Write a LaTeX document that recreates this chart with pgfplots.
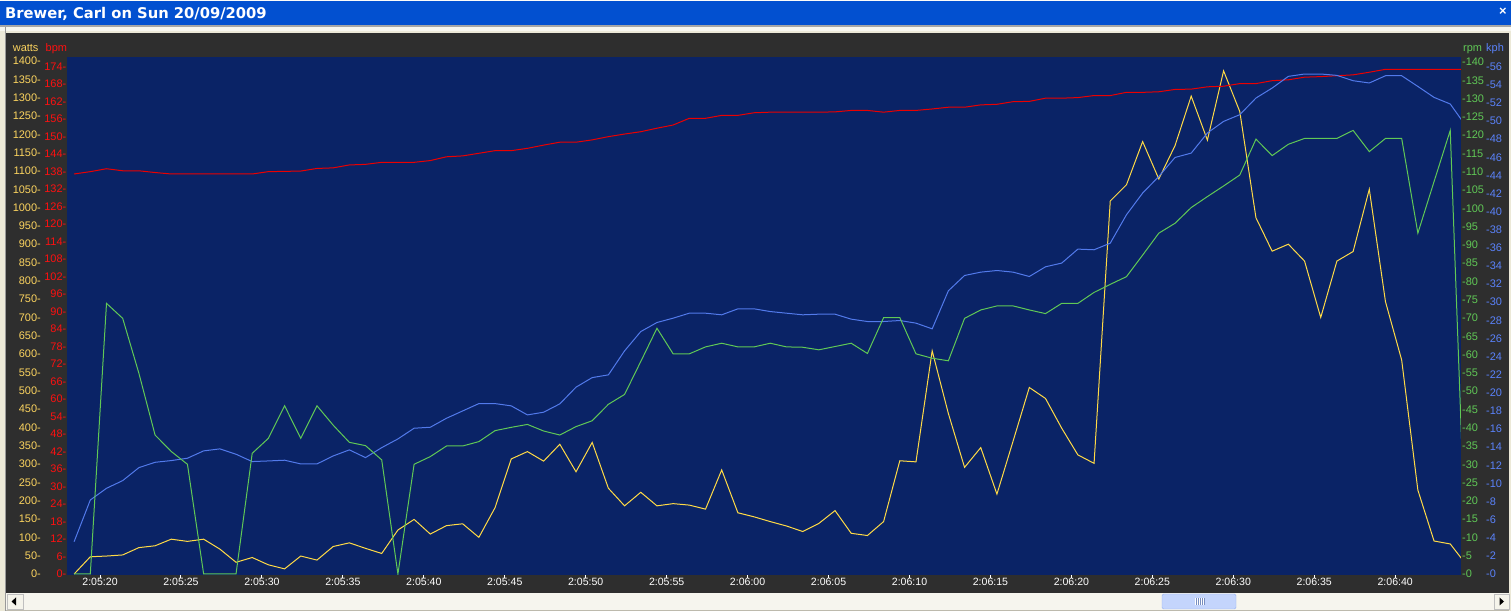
\documentclass[border=0pt]{standalone}
\usepackage{fontspec}
\setmainfont{Liberation Sans}
\newfontfamily\titlefont{DejaVu Sans}
\usepackage{pgfplots}
\usepackage{pgfplotstable}
\pgfplotsset{compat=1.18}
\definecolor{beige}{RGB}{236,233,216}
\definecolor{titleblue}{RGB}{2,80,208}
\definecolor{panel}{RGB}{46,46,46}
\definecolor{navy}{RGB}{10,35,102}
\definecolor{wattc}{RGB}{255,218,70}
\definecolor{wattl}{RGB}{252,212,95}
\definecolor{bpmc}{RGB}{235,0,0}
\definecolor{bpml}{RGB}{255,16,16}
\definecolor{rpmc}{RGB}{96,200,86}
\definecolor{kphc}{RGB}{82,122,235}
\definecolor{kphl}{RGB}{90,130,250}
\definecolor{scrollbg}{RGB}{246,245,238}
\definecolor{thumb}{RGB}{196,213,252}
\definecolor{thumbd}{RGB}{150,178,240}

\pgfplotstableread{
s watts bpm rpm kph
18.4 0 137.2 0 3.57
19.4 47 138.0 0 8.17
20.4 49 139.0 74.0 9.46
21.4 52 138.3 69.9 10.31
22.4 72 138.3 54.9 11.74
23.4 77 137.7 38.0 12.33
24.4 95 137.2 33.5 12.52
25.4 89 137.2 30.0 12.78
26.4 95 137.2 0 13.59
27.4 68 137.2 0 13.81
28.4 32 137.2 0 13.22
29.4 45 137.2 33.0 12.41
30.4 25 138.0 37.1 12.48
31.4 14 138.1 46.0 12.56
32.4 49 138.2 37.1 12.15
33.4 38 139.1 46.0 12.15
34.4 75 139.3 40.7 13.03
35.4 85 140.3 36.0 13.70
36.4 70 140.5 35.1 12.85
37.4 56 141.2 31.2 13.95
38.4 120 141.2 0 14.91
39.4 149 141.2 30.0 16.09
40.4 109 141.8 32.1 16.20
41.4 132 143.1 35.0 17.19
42.4 137 143.4 35.0 18.00
43.4 100 144.3 36.2 18.81
44.4 181 145.2 39.2 18.81
45.4 314 145.2 40.1 18.56
46.4 334 146.0 40.9 17.56
47.4 308 147.1 39.1 17.86
48.4 354 148.1 38.0 18.78
49.4 279 148.1 40.3 20.62
50.4 359 148.9 41.9 21.68
51.4 234 150.0 46.4 21.98
52.4 186 150.9 49.1 24.63
53.4 223 151.7 58.1 26.76
54.4 186 152.9 67.2 27.76
55.4 192 154.0 60.2 28.24
56.4 188 156.3 60.2 28.79
57.4 177 156.3 62.1 28.79
58.4 284 157.3 63.1 28.61
59.4 167 157.3 62.1 29.27
60.4 156 158.2 62.1 29.27
61.4 143 158.4 63.1 28.97
62.4 131 158.4 62.1 28.79
63.4 116 158.4 62.0 28.61
64.4 138 158.4 61.3 28.68
65.4 173 158.5 62.2 28.68
66.4 111 159.0 63.1 28.13
67.4 105 159.0 60.3 27.87
68.4 143 158.4 70.1 27.87
69.4 309 159.0 70.1 27.98
70.4 306 159.0 60.2 27.69
71.4 609 159.5 59.0 27.06
72.4 438 160.1 58.3 31.26
73.4 291 160.1 69.9 32.95
74.4 345 160.9 72.2 33.32
75.4 218 161.1 73.3 33.50
76.4 363 162.0 73.3 33.32
77.4 509 162.1 72.2 32.84
78.4 479 163.2 71.2 33.91
79.4 398 163.2 74.0 34.32
80.4 325 163.4 74.0 35.86
81.4 302 164.1 77.0 35.79
82.4 1018 164.1 79.2 36.52
83.4 1062 165.2 81.3 39.65
84.4 1180 165.2 87.2 42.05
85.4 1078 165.4 93.2 43.88
86.4 1169 166.2 95.9 45.98
87.4 1304 166.3 100.2 46.46
88.4 1184 167.1 103.2 48.68
89.4 1373 167.3 106.1 49.96
90.4 1262 168.2 109.1 50.70
91.4 972 168.2 118.9 52.54
92.4 881 169.2 114.4 53.64
93.4 900 169.5 117.5 54.93
94.4 854 170.4 119.1 55.19
95.4 700 170.6 119.1 55.19
96.4 854 170.9 119.1 55.04
97.4 880 171.2 121.3 54.45
98.4 1050 172.1 115.5 54.20
99.4 743 173.1 119.1 55.00
100.4 584 173.1 119.1 55.00
101.4 229 173.1 93.2 53.82
102.4 90 173.1 107.3 52.61
103.4 82 173.1 121.3 51.88
104.4 25 173.1 0 49.37
}\ride

\pgfplotsset{
  chartbase/.style={
    width=1394bp, height=518bp, scale only axis,
    at={(67bp,36bp)}, anchor=south west,
    xmin=17.96, xmax=104.06,
    axis line style={draw=none},
    ytick style={draw=none},
    yticklabel style={inner sep=0pt, font=\fontsize{11}{12}\selectfont},
    xticklabel style={font=\fontsize{10.6}{12}\selectfont},
    clip=true,
  },
  hidex/.style={xtick=\empty},
}

\begin{document}
\begin{tikzpicture}[x=1bp,y=1bp]
\path[use as bounding box] (0,0) rectangle (1511,611);
\fill[beige] (0,0) rectangle (1511,611);
\fill[white!85!beige] (0,609) rectangle (1511,611);
\fill[titleblue] (0,586) rectangle (1511,609.5);
\fill[black!35] (0,584) rectangle (1511,586);
\fill[white!60!beige] (0,580) rectangle (1511,584);
\draw[black!40, line width=1bp] (5,0) -- (5,584);
\fill[panel] (6,18) rectangle (1509,578);
% scrollbar
\fill[scrollbg] (6,1) rectangle (1509,18);
\draw[beige!80!black] (6,1) -- (1509,1);
\filldraw[fill=beige!50!white, draw=black!25] (6.7,2) rectangle (22.7,17);
\fill[black] (11.5,9.5) -- (16,13.5) -- (16,5.5) -- cycle;
\filldraw[fill=beige!50!white, draw=black!25] (1494,2) rectangle (1509,17);
\fill[black] (1504,9.5) -- (1499.5,13.5) -- (1499.5,5.5) -- cycle;
\filldraw[fill=thumb, draw=thumbd, rounded corners=1.5bp] (1162,2) rectangle (1236,17);
\foreach \gx in {1195,1197,1199,1201,1203}{
  \draw[white, line width=0.8bp] (\gx,6) -- (\gx,13);
  \draw[thumbd!80!black, line width=0.6bp] (\gx+0.9,6) -- (\gx+0.9,13);
}
% title
\node[anchor=base west, inner sep=0pt, text=white, font=\titlefont\bfseries\fontsize{14.8}{16}\selectfont] at (5,592.7) {Brewer, Carl on Sun 20/09/2009};
\node[anchor=center, inner sep=0pt, text=white, font=\bfseries\fontsize{13}{13}\selectfont] at (1503,599) {×};
% axis titles
\node[anchor=base west, inner sep=0pt, text=wattl, font=\fontsize{11}{12}\selectfont] at (12.7,559.3) {watts};
\node[anchor=base west, inner sep=0pt, text=bpml, font=\fontsize{11}{12}\selectfont] at (45.5,559.3) {bpm};
\node[anchor=base west, inner sep=0pt, text=rpmc, font=\fontsize{11}{12}\selectfont] at (1463,559.3) {rpm};
\node[anchor=base west, inner sep=0pt, text=kphl, font=\fontsize{11}{12}\selectfont] at (1486,559.3) {kph};

% watts axis (background, time ticks)
\begin{axis}[chartbase,
  axis background/.style={fill=navy},
  ymin=-2.73, ymax=1410.9,
  xtick={20,25,...,100},
  xticklabels={2:05:20,2:05:25,2:05:30,2:05:35,2:05:40,2:05:45,2:05:50,2:05:55,2:06:00,2:06:05,2:06:10,2:06:15,2:06:20,2:06:25,2:06:30,2:06:35,2:06:40},
  xtick pos=lower, tick align=outside, major tick length=3bp,
  xtick style={draw=white, line width=1bp},
  xticklabel style={text=white, inner sep=0pt},
  ytick={0,50,...,1400}, ytick pos=left,
  yticklabel={\pgfmathprintnumber[assume math mode=true,1000 sep={},fixed,precision=0]{\tick}-},
  yticklabel style={text=wattl, anchor=east, xshift=-23bp},
]
\addplot[wattc, line width=1bp] table[x=s, y=watts] {\ride};
\end{axis}

% bpm axis
\begin{axis}[chartbase, hidex,
  ymin=-0.343, ymax=177.33,
  ytick={0,6,...,174}, ytick pos=left,
  yticklabel={\pgfmathprintnumber[assume math mode=true,1000 sep={},fixed,precision=0]{\tick}-},
  yticklabel style={text=bpml, anchor=east, xshift=-0.5bp},
]
\addplot[bpmc, line width=1bp] table[x=s, y=bpm] {\ride};
\end{axis}

% kph axis
\begin{axis}[chartbase, hidex,
  ymin=-0.1104, ymax=57.07,
  ytick={0,2,...,56}, ytick pos=right, yticklabel pos=right,
  yticklabel={-\pgfmathprintnumber[assume math mode=true,1000 sep={},fixed,precision=0]{\tick}},
  yticklabel style={text=kphl, anchor=west, xshift=25bp},
]
\addplot[kphc, line width=1bp] table[x=s, y=kph] {\ride};
\end{axis}

% rpm axis
\begin{axis}[chartbase, hidex,
  ymin=-0.2734, ymax=141.37,
  ytick={0,5,...,140}, ytick pos=right, yticklabel pos=right,
  yticklabel={-\pgfmathprintnumber[assume math mode=true,1000 sep={},fixed,precision=0]{\tick}},
  yticklabel style={text=rpmc, anchor=west, xshift=1bp},
]
\addplot[rpmc, line width=1bp] table[x=s, y=rpm] {\ride};
\end{axis}
\end{tikzpicture}
\end{document}
